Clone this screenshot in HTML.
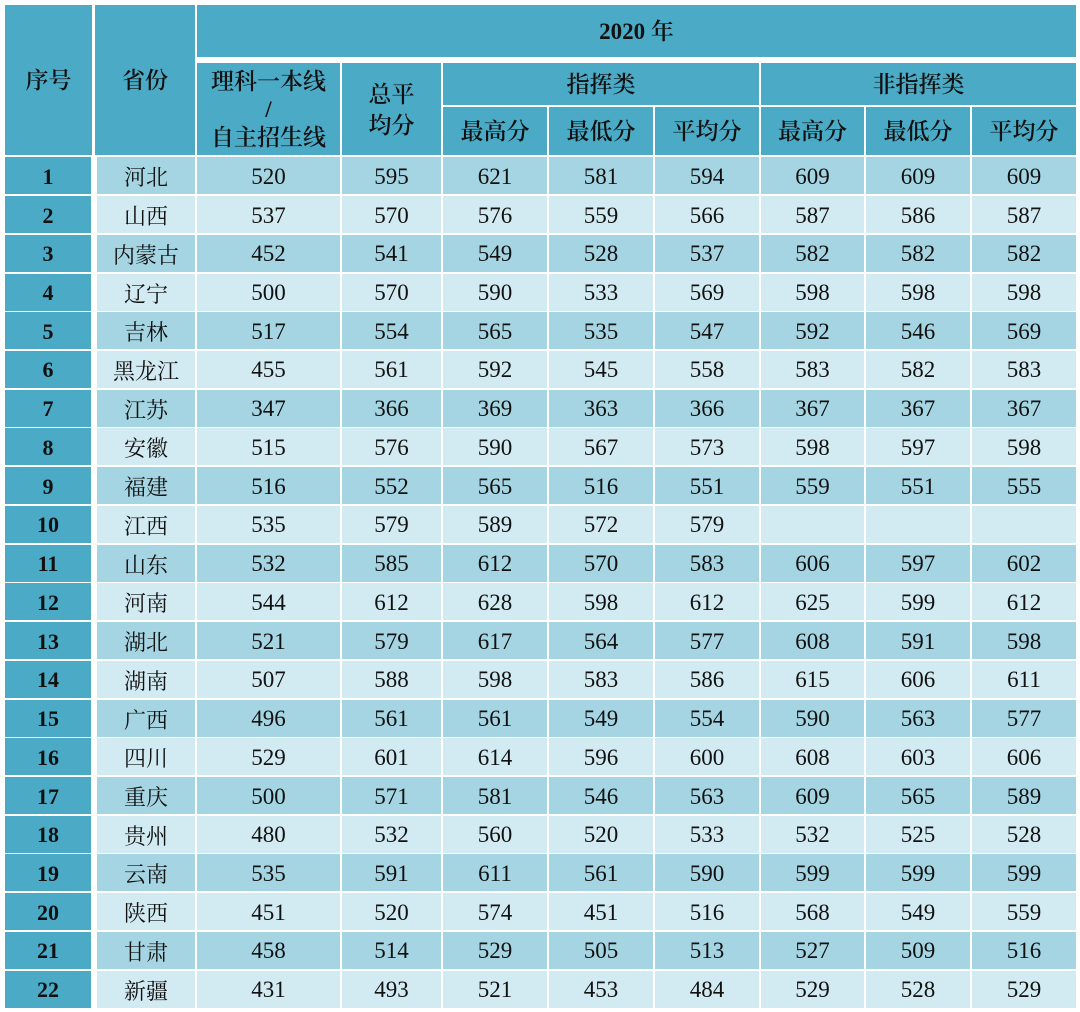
<!DOCTYPE html>
<html><head><meta charset="utf-8"><style>
html,body{margin:0;padding:0;background:#fff;}
body{width:1080px;height:1012px;position:relative;overflow:hidden;font-family:"Liberation Serif","Noto Serif CJK SC",serif;color:#111;}
.h{position:absolute;background:#4BABC6;display:flex;align-items:center;justify-content:center;text-align:center;font-family:"Liberation Serif","Noto Serif CJK SC",serif;font-weight:600;font-size:23px;line-height:28px;color:#111;padding-top:2px;box-sizing:border-box;}
.h b{font-weight:700;}
.r{position:absolute;left:0;width:1080px;height:37px;}
.r div{position:absolute;top:0;height:37px;display:flex;align-items:center;justify-content:center;font-size:23px;padding-top:2px;box-sizing:border-box;}
.o div{background:#A5D5E2;}
.e div{background:#D2EAF1;}
.r .c0{left:5px;width:86px;background:#4BABC6;font-weight:700;font-size:22px;}
.c1{left:97px;width:98px;font-family:"Liberation Serif","Noto Serif CJK SC",serif;}
.r .c1{font-size:22px;}
.c2{left:197px;width:143px;}
.c3{left:342px;width:99px;}
.c4{left:443px;width:104px;}
.c5{left:549px;width:104px;}
.c6{left:655px;width:104px;}
.c7{left:761px;width:103px;}
.c8{left:866px;width:104px;}
.c9{left:972px;width:104px;}
</style></head><body>
<div class="h" style="left:5px;top:5px;width:87px;height:150px;">序号</div>
<div class="h" style="left:95px;top:5px;width:100px;height:150px;">省份</div>
<div class="h" style="left:197px;top:5px;width:879px;height:52px;"><span><b>2020</b> 年</span></div>
<div class="h" style="left:197px;top:63px;width:143px;height:92px;">理科一本线<br>/<br>自主招生线</div>
<div class="h" style="left:342px;top:63px;width:99px;height:92px;line-height:31px;">总平<br>均分</div>
<div class="h" style="left:443px;top:63px;width:316px;height:42px;">指挥类</div>
<div class="h" style="left:761px;top:63px;width:315px;height:42px;">非指挥类</div>
<div class="h" style="left:443px;top:107px;width:104px;height:48px;">最高分</div>
<div class="h" style="left:549px;top:107px;width:104px;height:48px;">最低分</div>
<div class="h" style="left:655px;top:107px;width:104px;height:48px;">平均分</div>
<div class="h" style="left:761px;top:107px;width:103px;height:48px;">最高分</div>
<div class="h" style="left:866px;top:107px;width:104px;height:48px;">最低分</div>
<div class="h" style="left:972px;top:107px;width:104px;height:48px;">平均分</div>

<div class="r o" style="top:157.3px"><div class="c0">1</div><div class="c1">河北</div><div class="c2">520</div><div class="c3">595</div><div class="c4">621</div><div class="c5">581</div><div class="c6">594</div><div class="c7">609</div><div class="c8">609</div><div class="c9">609</div></div>
<div class="r e" style="top:196.0px"><div class="c0">2</div><div class="c1">山西</div><div class="c2">537</div><div class="c3">570</div><div class="c4">576</div><div class="c5">559</div><div class="c6">566</div><div class="c7">587</div><div class="c8">586</div><div class="c9">587</div></div>
<div class="r o" style="top:234.8px"><div class="c0">3</div><div class="c1">内蒙古</div><div class="c2">452</div><div class="c3">541</div><div class="c4">549</div><div class="c5">528</div><div class="c6">537</div><div class="c7">582</div><div class="c8">582</div><div class="c9">582</div></div>
<div class="r e" style="top:273.5px"><div class="c0">4</div><div class="c1">辽宁</div><div class="c2">500</div><div class="c3">570</div><div class="c4">590</div><div class="c5">533</div><div class="c6">569</div><div class="c7">598</div><div class="c8">598</div><div class="c9">598</div></div>
<div class="r o" style="top:312.2px"><div class="c0">5</div><div class="c1">吉林</div><div class="c2">517</div><div class="c3">554</div><div class="c4">565</div><div class="c5">535</div><div class="c6">547</div><div class="c7">592</div><div class="c8">546</div><div class="c9">569</div></div>
<div class="r e" style="top:350.9px"><div class="c0">6</div><div class="c1">黑龙江</div><div class="c2">455</div><div class="c3">561</div><div class="c4">592</div><div class="c5">545</div><div class="c6">558</div><div class="c7">583</div><div class="c8">582</div><div class="c9">583</div></div>
<div class="r o" style="top:389.7px"><div class="c0">7</div><div class="c1">江苏</div><div class="c2">347</div><div class="c3">366</div><div class="c4">369</div><div class="c5">363</div><div class="c6">366</div><div class="c7">367</div><div class="c8">367</div><div class="c9">367</div></div>
<div class="r e" style="top:428.4px"><div class="c0">8</div><div class="c1">安徽</div><div class="c2">515</div><div class="c3">576</div><div class="c4">590</div><div class="c5">567</div><div class="c6">573</div><div class="c7">598</div><div class="c8">597</div><div class="c9">598</div></div>
<div class="r o" style="top:467.1px"><div class="c0">9</div><div class="c1">福建</div><div class="c2">516</div><div class="c3">552</div><div class="c4">565</div><div class="c5">516</div><div class="c6">551</div><div class="c7">559</div><div class="c8">551</div><div class="c9">555</div></div>
<div class="r e" style="top:505.9px"><div class="c0">10</div><div class="c1">江西</div><div class="c2">535</div><div class="c3">579</div><div class="c4">589</div><div class="c5">572</div><div class="c6">579</div><div class="c7"></div><div class="c8"></div><div class="c9"></div></div>
<div class="r o" style="top:544.6px"><div class="c0">11</div><div class="c1">山东</div><div class="c2">532</div><div class="c3">585</div><div class="c4">612</div><div class="c5">570</div><div class="c6">583</div><div class="c7">606</div><div class="c8">597</div><div class="c9">602</div></div>
<div class="r e" style="top:583.3px"><div class="c0">12</div><div class="c1">河南</div><div class="c2">544</div><div class="c3">612</div><div class="c4">628</div><div class="c5">598</div><div class="c6">612</div><div class="c7">625</div><div class="c8">599</div><div class="c9">612</div></div>
<div class="r o" style="top:622.1px"><div class="c0">13</div><div class="c1">湖北</div><div class="c2">521</div><div class="c3">579</div><div class="c4">617</div><div class="c5">564</div><div class="c6">577</div><div class="c7">608</div><div class="c8">591</div><div class="c9">598</div></div>
<div class="r e" style="top:660.8px"><div class="c0">14</div><div class="c1">湖南</div><div class="c2">507</div><div class="c3">588</div><div class="c4">598</div><div class="c5">583</div><div class="c6">586</div><div class="c7">615</div><div class="c8">606</div><div class="c9">611</div></div>
<div class="r o" style="top:699.5px"><div class="c0">15</div><div class="c1">广西</div><div class="c2">496</div><div class="c3">561</div><div class="c4">561</div><div class="c5">549</div><div class="c6">554</div><div class="c7">590</div><div class="c8">563</div><div class="c9">577</div></div>
<div class="r e" style="top:738.3px"><div class="c0">16</div><div class="c1">四川</div><div class="c2">529</div><div class="c3">601</div><div class="c4">614</div><div class="c5">596</div><div class="c6">600</div><div class="c7">608</div><div class="c8">603</div><div class="c9">606</div></div>
<div class="r o" style="top:777.0px"><div class="c0">17</div><div class="c1">重庆</div><div class="c2">500</div><div class="c3">571</div><div class="c4">581</div><div class="c5">546</div><div class="c6">563</div><div class="c7">609</div><div class="c8">565</div><div class="c9">589</div></div>
<div class="r e" style="top:815.7px"><div class="c0">18</div><div class="c1">贵州</div><div class="c2">480</div><div class="c3">532</div><div class="c4">560</div><div class="c5">520</div><div class="c6">533</div><div class="c7">532</div><div class="c8">525</div><div class="c9">528</div></div>
<div class="r o" style="top:854.4px"><div class="c0">19</div><div class="c1">云南</div><div class="c2">535</div><div class="c3">591</div><div class="c4">611</div><div class="c5">561</div><div class="c6">590</div><div class="c7">599</div><div class="c8">599</div><div class="c9">599</div></div>
<div class="r e" style="top:893.2px"><div class="c0">20</div><div class="c1">陕西</div><div class="c2">451</div><div class="c3">520</div><div class="c4">574</div><div class="c5">451</div><div class="c6">516</div><div class="c7">568</div><div class="c8">549</div><div class="c9">559</div></div>
<div class="r o" style="top:931.9px"><div class="c0">21</div><div class="c1">甘肃</div><div class="c2">458</div><div class="c3">514</div><div class="c4">529</div><div class="c5">505</div><div class="c6">513</div><div class="c7">527</div><div class="c8">509</div><div class="c9">516</div></div>
<div class="r e" style="top:970.6px"><div class="c0">22</div><div class="c1">新疆</div><div class="c2">431</div><div class="c3">493</div><div class="c4">521</div><div class="c5">453</div><div class="c6">484</div><div class="c7">529</div><div class="c8">528</div><div class="c9">529</div></div>
</body></html>
